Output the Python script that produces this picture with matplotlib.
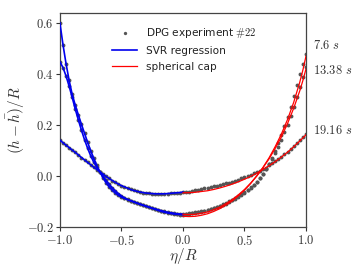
import numpy as np
import matplotlib
matplotlib.use("Agg")
import matplotlib.pyplot as plt

plt.rcParams['mathtext.fontset'] = 'cm'
plt.rcParams['font.family'] = ['DejaVu Sans']

# x grid of the measurements / SVR (left half) and cap (right half)
x_left = [-1.0, -0.975, -0.95, -0.925, -0.9, -0.875, -0.85, -0.825, -0.8, -0.775,
          -0.75, -0.725, -0.7, -0.675, -0.65, -0.625, -0.6, -0.575, -0.55, -0.525,
          -0.5, -0.475, -0.45, -0.425, -0.4, -0.375, -0.35, -0.325, -0.3, -0.275,
          -0.25, -0.225, -0.2, -0.175, -0.15, -0.125, -0.1, -0.075, -0.05, -0.025, 0.0]
x_right = [0.025, 0.05, 0.075, 0.1, 0.125, 0.15, 0.175, 0.2, 0.225, 0.25,
           0.275, 0.3, 0.325, 0.35, 0.375, 0.4, 0.425, 0.45, 0.475, 0.5,
           0.525, 0.55, 0.575, 0.6, 0.625, 0.65, 0.675, 0.7, 0.725, 0.75,
           0.775, 0.8, 0.825, 0.85, 0.875, 0.9, 0.925, 0.95, 0.975, 1.0]

# SVR regression (left half)
svr_76 = [0.600, 0.515, 0.440, 0.375, 0.320, 0.278, 0.240, 0.203, 0.168, 0.133,
          0.100, 0.070, 0.042, 0.017, -0.006, -0.026, -0.042, -0.055, -0.066, -0.075,
          -0.082, -0.087, -0.092, -0.096, -0.100, -0.105, -0.110, -0.114, -0.118, -0.122,
          -0.126, -0.130, -0.134, -0.138, -0.141, -0.144, -0.146, -0.148, -0.149, -0.150, -0.151]
svr_1338 = [0.448, 0.425, 0.392, 0.352, 0.308, 0.262, 0.220, 0.180, 0.143, 0.110,
            0.080, 0.055, 0.035, 0.017, 0.000, -0.016, -0.031, -0.045, -0.057, -0.068,
            -0.077, -0.085, -0.091, -0.096, -0.101, -0.105, -0.109, -0.113, -0.117, -0.121,
            -0.125, -0.128, -0.132, -0.135, -0.138, -0.141, -0.143, -0.145, -0.147, -0.148, -0.149]
svr_1916 = [0.141, 0.131, 0.121, 0.112, 0.102, 0.093, 0.083, 0.073, 0.064, 0.054,
            0.045, 0.035, 0.026, 0.017, 0.008, -0.001, -0.009, -0.017, -0.024, -0.031,
            -0.037, -0.042, -0.047, -0.052, -0.056, -0.059, -0.062, -0.064, -0.066, -0.067,
            -0.068, -0.069, -0.069, -0.069, -0.069, -0.068, -0.067, -0.066, -0.065, -0.064, -0.062]

# experiment, right half (left half coincides with the SVR curves)
exp_76_right = [-0.149, -0.148, -0.146, -0.144, -0.142, -0.140, -0.137, -0.134, -0.130, -0.126,
                -0.122, -0.117, -0.112, -0.107, -0.101, -0.095, -0.088, -0.081, -0.073, -0.065,
                -0.056, -0.046, -0.035, -0.023, -0.009, 0.008, 0.027, 0.048, 0.072, 0.098,
                0.128, 0.160, 0.195, 0.233, 0.272, 0.313, 0.355, 0.398, 0.440, 0.478]
exp_1338_right = [-0.147, -0.146, -0.144, -0.142, -0.140, -0.138, -0.135, -0.132, -0.128, -0.124,
                  -0.120, -0.115, -0.110, -0.105, -0.099, -0.093, -0.086, -0.079, -0.071, -0.063,
                  -0.054, -0.044, -0.033, -0.021, -0.007, 0.009, 0.027, 0.046, 0.067, 0.090,
                  0.115, 0.142, 0.171, 0.202, 0.236, 0.272, 0.310, 0.350, 0.390, 0.428]
exp_1916_right = [-0.061, -0.060, -0.058, -0.056, -0.054, -0.051, -0.048, -0.046, -0.043, -0.040,
                  -0.037, -0.034, -0.031, -0.028, -0.025, -0.021, -0.017, -0.013, -0.009, -0.004,
                  0.001, 0.006, 0.011, 0.016, 0.021, 0.027, 0.033, 0.042, 0.050, 0.058,
                  0.067, 0.076, 0.085, 0.095, 0.106, 0.117, 0.128, 0.140, 0.153, 0.166]

# spherical cap (right half)
cap_x = [0.0, 0.05, 0.1, 0.15, 0.2, 0.25, 0.3, 0.35, 0.4, 0.45, 0.5,
         0.55, 0.6, 0.65, 0.7, 0.75, 0.8, 0.85, 0.9, 0.95, 0.975, 1.0]
cap_76 = [-0.157, -0.158, -0.157, -0.153, -0.147, -0.138, -0.127, -0.113, -0.097, -0.077, -0.055,
          -0.029, 0.001, 0.034, 0.072, 0.116, 0.165, 0.222, 0.289, 0.369, 0.416, 0.470]
cap_1338 = [-0.149, -0.150, -0.149, -0.145, -0.140, -0.131, -0.121, -0.107, -0.092, -0.073, -0.052,
            -0.027, 0.001, 0.033, 0.068, 0.109, 0.154, 0.206, 0.266, 0.335, 0.375, 0.420]
cap_1916 = [-0.065, -0.0645, -0.063, -0.060, -0.057, -0.052, -0.046, -0.039, -0.031, -0.022, -0.012,
            -0.001, 0.012, 0.026, 0.041, 0.057, 0.075, 0.094, 0.115, 0.138, 0.150, 0.162]

times = [r"$7.6\ s$", r"$13.38\ s$", r"$19.16\ s$"]
time_label_y = [0.513, 0.415, 0.180]

fig = plt.figure(figsize=(3.63, 2.73), dpi=100)
ax = fig.add_axes([0.165, 0.1674, 0.678, 0.7836])

gray = '#555555'
x_all = x_left + x_right
for svr, er in [(svr_76, exp_76_right), (svr_1338, exp_1338_right), (svr_1916, exp_1916_right)]:
    ax.plot(x_all, svr + er, linestyle='none', marker='o', markersize=2.8,
            color=gray, markeredgewidth=0, zorder=1)
for i, svr in enumerate([svr_76, svr_1338, svr_1916]):
    ax.plot(x_left, svr, color='#0000ee', lw=1.2, zorder=3)
for cap in [cap_76, cap_1338, cap_1916]:
    ax.plot(cap_x, cap, color='#ff0000', lw=0.9, zorder=3)

# legend handles
h1, = ax.plot([], [], linestyle='none', marker='o', markersize=2.4, color=gray,
              markeredgewidth=0, label=r"DPG experiment $\#\mathrm{22}$")
h2, = ax.plot([], [], color='#0000ee', lw=1.2, label="SVR regression")
h3, = ax.plot([], [], color='#ff0000', lw=0.9, label="spherical cap")
leg = ax.legend(handles=[h1, h2, h3], loc='upper left', bbox_to_anchor=(0.212, 0.94),
                frameon=False, fontsize=7.6, handlelength=2.4, handletextpad=0.8,
                labelspacing=0.55, borderaxespad=0, borderpad=0)
for t in leg.get_texts():
    t.set_color('#222222')

for lab, yy in zip(times, time_label_y):
    ax.text(1.055, yy, lab, fontsize=9, color='#333333', ha='left', va='center',
            clip_on=False)

ax.set_xlim(-1.0, 1.0)
ax.set_ylim(-0.2, 0.637)
ax.set_xticks([-1.0, -0.5, 0.0, 0.5, 1.0])
ax.set_xticklabels([r"$-1.0$", r"$-0.5$", r"$0.0$", r"$0.5$", r"$1.0$"])
ax.set_yticks([-0.2, 0.0, 0.2, 0.4, 0.6])
ax.set_yticklabels([r"$-0.2$", r"$0.0$", r"$0.2$", r"$0.4$", r"$0.6$"])
ax.tick_params(labelsize=9, colors='#333333', length=3, width=0.8, pad=1.5)
for s in ax.spines.values():
    s.set_color('#444444')
    s.set_linewidth(0.9)
ax.set_xlabel(r"$\eta/R$", fontsize=11, color='#333333', labelpad=-1)
ax.set_ylabel(r"$(h-\bar{h})/R$", fontsize=11, color='#333333', labelpad=0)

fig.savefig("out.png", dpi=100)
